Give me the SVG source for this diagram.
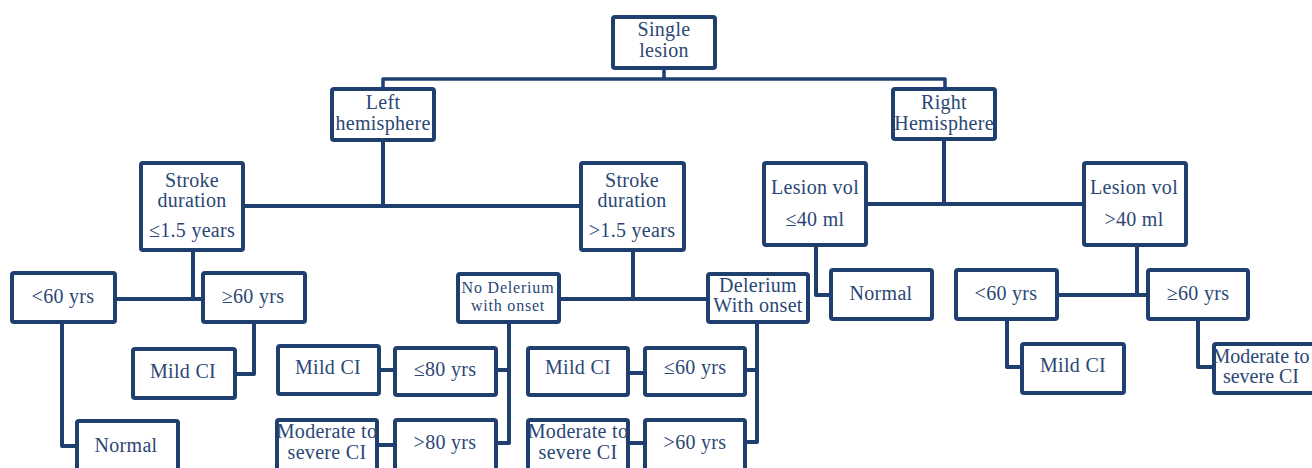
<svg xmlns="http://www.w3.org/2000/svg" width="1312" height="468" viewBox="0 0 1312 468">
<style>
.box{fill:#fff;stroke:#1f3f6e;stroke-width:4}
.t{font-family:"Liberation Serif","Times New Roman",serif;font-size:20px;fill:#2b4775;text-anchor:middle;letter-spacing:0.3px}
.s{font-size:16px;letter-spacing:0.8px}
.c{fill:none;stroke:#1f3f6e;stroke-width:4;stroke-linejoin:round}
.c3{stroke-width:3.5}
</style>
<rect width="1312" height="468" fill="#fff"/>
<g id="connectors">
<path class="c c3" d="M664 70V79M383 87V79H945V87"/>
<path class="c" d="M383 142V206M245 206H579"/>
<path class="c" d="M944 141V204M868 204H1082"/>
<path class="c" d="M193 252V299M117 299H201"/>
<path class="c" d="M254 324V374H237"/>
<path class="c" d="M62 324V446H75"/>
<path class="c" d="M633 252V299M561 299H706"/>
<path class="c" d="M509 324V443H498M509 370H498"/>
<path class="c" d="M381 370H393M379 445H393"/>
<path class="c" d="M757 324V442H747M757 370H747"/>
<path class="c" d="M630 373H643M630 443H643"/>
<path class="c" d="M816 247V295H829"/>
<path class="c" d="M1137 247V295M1059 295H1146"/>
<path class="c" d="M1007 321V367H1020"/>
<path class="c" d="M1198 321V367H1212"/>
</g>
<g id="n-single"><rect class="box" x="613" y="17" width="102" height="51" rx="2"/><text class="t" x="664" y="36">Single</text><text class="t" x="664" y="57">lesion</text></g>
<g id="n-left"><rect class="box" x="332" y="89" width="102" height="51" rx="2"/><text class="t" x="383" y="109">Left</text><text class="t" x="383" y="130">hemisphere</text></g>
<g id="n-right"><rect class="box" x="893" y="89" width="102" height="50" rx="2"/><text class="t" x="944" y="109">Right</text><text class="t" x="944" y="130">Hemisphere</text></g>
<g id="n-stroke1"><rect class="box" x="141" y="163" width="102" height="87" rx="2"/><text class="t" x="192" y="187">Stroke</text><text class="t" x="192" y="207">duration</text><text class="t" x="192" y="237">≤1.5 years</text></g>
<g id="n-stroke2"><rect class="box" x="581" y="163" width="103" height="87" rx="2"/><text class="t" x="632" y="187">Stroke</text><text class="t" x="632" y="207">duration</text><text class="t" x="632" y="237">&gt;1.5 years</text></g>
<g id="n-lesion1"><rect class="box" x="764" y="163" width="102" height="82" rx="2"/><text class="t" x="815" y="194">Lesion vol</text><text class="t" x="815" y="226">≤40 ml</text></g>
<g id="n-lesion2"><rect class="box" x="1084" y="163" width="102" height="82" rx="2"/><text class="t" x="1134" y="194">Lesion vol</text><text class="t" x="1134" y="226">&gt;40 ml</text></g>
<g id="n-lt60L"><rect class="box" x="12" y="273" width="103" height="49" rx="2"/><text class="t" x="63" y="303">&lt;60 yrs</text></g>
<g id="n-ge60L"><rect class="box" x="203" y="273" width="102" height="49" rx="2"/><text class="t" x="253" y="303">≥60 yrs</text></g>
<g id="n-mildL"><rect class="box" x="133" y="349" width="102" height="49" rx="2"/><text class="t" x="183" y="378">Mild CI</text></g>
<g id="n-normalL"><rect class="box" x="77" y="421" width="101" height="60" rx="2"/><text class="t" x="126" y="452">Normal</text></g>
<g id="n-mildML"><rect class="box" x="278" y="346" width="101" height="48" rx="2"/><text class="t" x="328" y="374">Mild CI</text></g>
<g id="n-le80"><rect class="box" x="395" y="348" width="101" height="47" rx="2"/><text class="t" x="445" y="376">≤80 yrs</text></g>
<g id="n-modML"><rect class="box" x="277" y="420" width="100" height="60" rx="2"/><text class="t" x="327" y="438">Moderate to</text><text class="t" x="327" y="459">severe CI</text></g>
<g id="n-gt80"><rect class="box" x="395" y="420" width="101" height="60" rx="2"/><text class="t" x="445" y="449">&gt;80 yrs</text></g>
<g id="n-nodel"><rect class="box" x="458" y="274" width="101" height="48" rx="2"/><text class="t s" x="508" y="293">No Delerium</text><text class="t s" x="508" y="311">with onset</text></g>
<g id="n-del"><rect class="box" x="708" y="274" width="100" height="48" rx="2"/><text class="t" x="758" y="292">Delerium</text><text class="t" x="758" y="312">With onset</text></g>
<g id="n-mildM"><rect class="box" x="528" y="348" width="100" height="47" rx="2"/><text class="t" x="578" y="374">Mild CI</text></g>
<g id="n-le60"><rect class="box" x="645" y="348" width="100" height="47" rx="2"/><text class="t" x="695" y="374">≤60 yrs</text></g>
<g id="n-modM"><rect class="box" x="528" y="420" width="100" height="60" rx="2"/><text class="t" x="578" y="438">Moderate to</text><text class="t" x="578" y="459">severe CI</text></g>
<g id="n-gt60"><rect class="box" x="645" y="420" width="100" height="60" rx="2"/><text class="t" x="695" y="449">&gt;60 yrs</text></g>
<g id="n-normalR"><rect class="box" x="831" y="270" width="101" height="49" rx="2"/><text class="t" x="881" y="300">Normal</text></g>
<g id="n-lt60R"><rect class="box" x="956" y="270" width="101" height="49" rx="2"/><text class="t" x="1006" y="300">&lt;60 yrs</text></g>
<g id="n-ge60R"><rect class="box" x="1148" y="270" width="100" height="49" rx="2"/><text class="t" x="1198" y="300">≥60 yrs</text></g>
<g id="n-mildR"><rect class="box" x="1022" y="344" width="102" height="49" rx="2"/><text class="t" x="1073" y="372">Mild CI</text></g>
<g id="n-modR"><rect class="box" x="1214" y="344" width="104" height="49" rx="2"/><text class="t" x="1261" y="363" style="letter-spacing:0">Moderate to</text><text class="t" x="1261" y="383" style="letter-spacing:0">severe CI</text></g>
</svg>
